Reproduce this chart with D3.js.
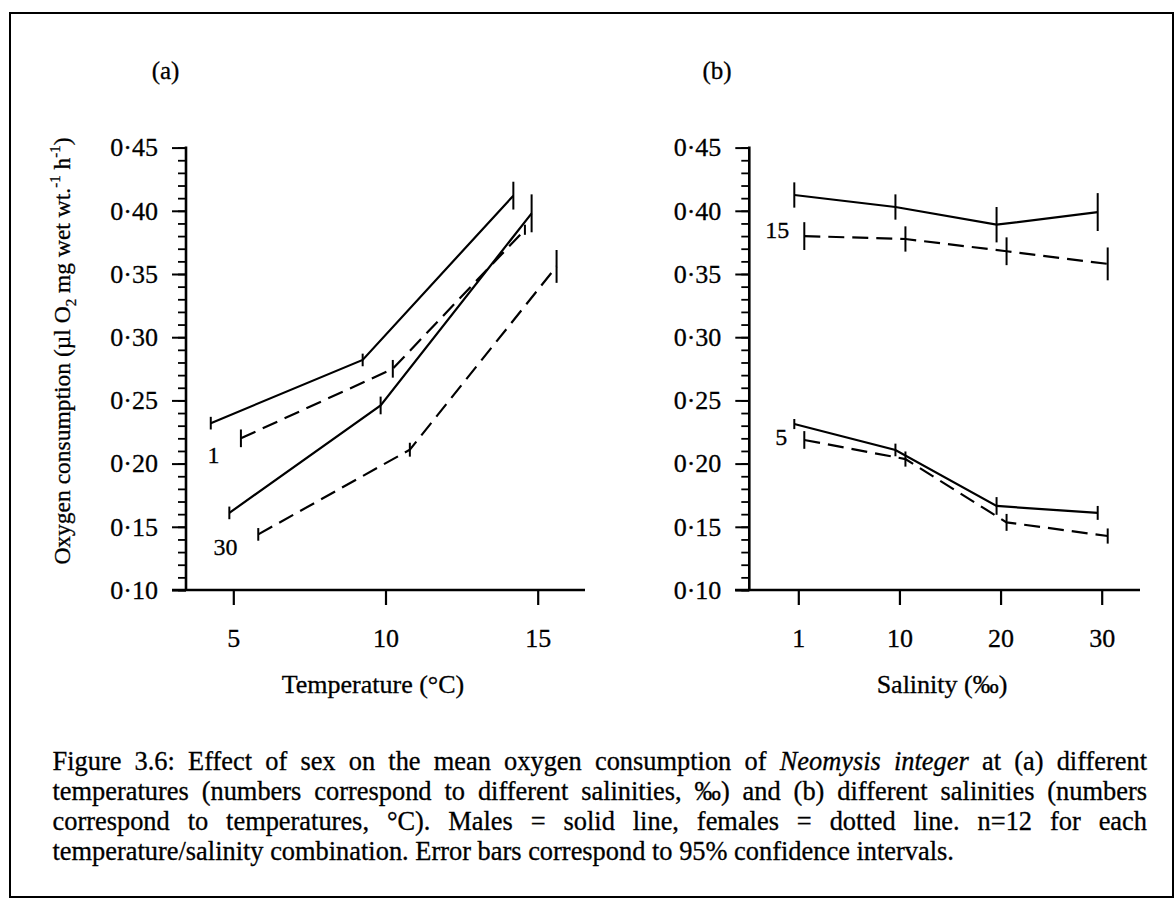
<!DOCTYPE html>
<html>
<head>
<meta charset="utf-8">
<script src="https://cdn.jsdelivr.net/npm/d3@7"></script>
<style>
  html, body { margin: 0; padding: 0; background: #fff; }
  svg { display: block; }
  text { font-family: "Liberation Serif", "Times New Roman", serif; fill: #000; stroke: #000; stroke-width: 0.3px; }
</style>
</head>
<body>
<svg id="fig" width="1175" height="899"></svg>
<script>
// ---------------- data ----------------
const yTicks = [0.10, 0.15, 0.20, 0.25, 0.30, 0.35, 0.40, 0.45];
const tempTicks = [5, 10, 15];
const salinityCats = ["1", "10", "20", "30"];

// (a) oxygen consumption vs temperature; sexes are staggered along the temperature axis
const aMaleSal1Temp = [4.26, 9.25, 14.2];
const aMaleSal1O2 = [0.232, 0.282, 0.412];
const aMaleSal1CI = [0.005, 0.005, 0.011];

const aFemaleSal1Temp = [5.25, 10.24, 14.58];
const aFemaleSal1O2 = [0.220, 0.275, 0.385];
const aFemaleSal1CI = [0.007, 0.007, 0.004];

const aMaleSal30Temp = [4.87, 9.84, 14.8];
const aMaleSal30O2 = [0.161, 0.246, 0.398];
const aMaleSal30CI = [0.005, 0.007, 0.015];

const aFemaleSal30Temp = [5.82, 10.8, 15.62];
const aFemaleSal30O2 = [0.144, 0.211, 0.356];
const aFemaleSal30CI = [0.005, 0.0055, 0.013];

// (b) oxygen consumption vs salinity, at 15 and 5 °C
const bMaleT15O2 = [0.4125, 0.403, 0.389, 0.399];
const bMaleT15CI = [0.010, 0.010, 0.014, 0.015];
const bFemaleT15O2 = [0.380, 0.3777, 0.368, 0.358];
const bFemaleT15CI = [0.011, 0.010, 0.011, 0.013];

const bMaleT5O2 = [0.2313, 0.2108, 0.1665, 0.161];
const bMaleT5CI = [0.004, 0.005, 0.007, 0.0055];
const bFemaleT5O2 = [0.2187, 0.2036, 0.1535, 0.1427];
const bFemaleT5CI = [0.007, 0.006, 0.0067, 0.006];

const captionLines = [
  [["Figure 3.6: Effect of sex on the mean oxygen consumption of ", false], ["Neomysis integer", true], [" at (a) different", false]],
  [["temperatures (numbers correspond to different salinities, \u2030) and (b) different salinities (numbers", false]],
  [["correspond to temperatures, \u00B0C). Males = solid line, females = dotted line. n=12 for each", false]],
  [["temperature/salinity combination. Error bars correspond to 95% confidence intervals.", false]]
];

// ---------------- layout ----------------
const svg = d3.select("#fig");
const FONT = 26;
const fmt = v => d3.format(".2f")(v).replace(".", "\u00B7");

const yScale = d3.scaleLinear().domain([0.10, 0.45]).range([590, 147.6]);
const xTemp = d3.scaleLinear().domain([5, 15]).range([233.3, 537.7]);
const xSal = d3.scalePoint().domain(salinityCats).range([798.3, 1101.7]);
const minorTicks = d3.range(10, 46).map(d => d / 100);

// outer frame
svg.append("rect")
  .attr("x", 10).attr("y", 13).attr("width", 1163).attr("height", 884)
  .attr("fill", "none").attr("stroke", "#000").attr("stroke-width", 2);

function drawYAxis(axisX) {
  const g = svg.append("g").attr("transform", `translate(${axisX},0)`);
  g.append("g")
    .call(d3.axisLeft(yScale).tickValues(minorTicks).tickSize(8).tickFormat(""))
    .call(s => s.select(".domain").remove())
    .selectAll("line").attr("stroke", "#000").attr("stroke-width", 1.8);
  const major = g.append("g")
    .call(d3.axisLeft(yScale).tickValues(yTicks).tickSize(14).tickPadding(14).tickFormat(fmt))
    .call(s => s.select(".domain").remove());
  major.selectAll("line").attr("stroke", "#000").attr("stroke-width", 2);
  major.selectAll("text").attr("font-size", FONT).attr("font-family", "Liberation Serif, serif");
  g.append("line")
    .attr("x1", 0).attr("x2", 0)
    .attr("y1", yScale(0.45) - 1).attr("y2", yScale(0.10) + 1)
    .attr("stroke", "#000").attr("stroke-width", 2.6);
}

function drawXAxis(scale, values, x0, x1) {
  const g = svg.append("g").attr("transform", "translate(0,590)");
  const ax = g.append("g")
    .call(d3.axisBottom(scale).tickValues(values).tickSize(15).tickPadding(24))
    .call(s => s.select(".domain").remove());
  ax.selectAll("line").attr("stroke", "#000").attr("stroke-width", 2.2);
  ax.selectAll("text").attr("font-size", FONT).attr("font-family", "Liberation Serif, serif");
  g.append("line").attr("x1", x0).attr("x2", x1).attr("y1", 0).attr("y2", 0)
    .attr("stroke", "#000").attr("stroke-width", 2.4);
}

drawYAxis(186);
drawYAxis(749.3);
drawXAxis(xTemp, tempTicks, 172, 585);
drawXAxis(xSal, salinityCats, 735, 1140);

// series: solid = males, dashed = females
function drawSeries(xs, ys, cis, dashed) {
  const pts = xs.map((x, i) => ({ x, y: ys[i], ci: cis[i] }));
  const g = svg.append("g");
  g.append("path")
    .attr("d", d3.line().x(d => d.x).y(d => yScale(d.y))(pts))
    .attr("fill", "none").attr("stroke", "#000").attr("stroke-width", 2.2)
    .attr("stroke-dasharray", dashed ? "16,8" : null);
  g.selectAll("line").data(pts).join("line")
    .attr("x1", d => d.x).attr("x2", d => d.x)
    .attr("y1", d => yScale(d.y - d.ci)).attr("y2", d => yScale(d.y + d.ci))
    .attr("stroke", "#000").attr("stroke-width", 2);
}

drawSeries(aMaleSal1Temp.map(xTemp), aMaleSal1O2, aMaleSal1CI, false);
drawSeries(aFemaleSal1Temp.map(xTemp), aFemaleSal1O2, aFemaleSal1CI, true);
drawSeries(aMaleSal30Temp.map(xTemp), aMaleSal30O2, aMaleSal30CI, false);
drawSeries(aFemaleSal30Temp.map(xTemp), aFemaleSal30O2, aFemaleSal30CI, true);

const maleShift = -4, femaleShift = 6;
const salX = shift => salinityCats.map(c => xSal(c) + shift);
drawSeries(salX(maleShift), bMaleT15O2, bMaleT15CI, false);
drawSeries(salX(femaleShift), bFemaleT15O2, bFemaleT15CI, true);
drawSeries(salX(maleShift), bMaleT5O2, bMaleT5CI, false);
drawSeries(salX(femaleShift), bFemaleT5O2, bFemaleT5CI, true);

// group labels (salinity in a, temperature in b)
const note = (x, y, t) => svg.append("text").attr("x", x).attr("y", y)
  .attr("text-anchor", "middle").attr("font-size", 24).text(t);
note(xTemp(4.35), yScale(0.2005), "1");
note(xTemp(4.74), yScale(0.1277), "30");
note(xSal("1") - 21, yScale(0.3785), "15");
note(xSal("1") - 17, yScale(0.2147), "5");

// panel tags
svg.append("text").attr("x", 165.5).attr("y", 79).attr("text-anchor", "middle").attr("font-size", 25).text("(a)");
svg.append("text").attr("x", 717).attr("y", 79).attr("text-anchor", "middle").attr("font-size", 25).text("(b)");

// axis titles
svg.append("text").attr("x", 373).attr("y", 693).attr("text-anchor", "middle").attr("font-size", FONT).text("Temperature (\u00B0C)");
svg.append("text").attr("x", 942).attr("y", 693).attr("text-anchor", "middle").attr("font-size", FONT).text("Salinity (\u2030)");

const yTitle = svg.append("text")
  .attr("transform", "translate(70,351) rotate(-90)")
  .attr("text-anchor", "middle").attr("font-size", 23.5);
yTitle.append("tspan").text("Oxygen consumption (\u00B5l O");
yTitle.append("tspan").attr("dy", 6).attr("font-size", 15).text("2");
yTitle.append("tspan").attr("dy", -6).text(" mg wet wt.");
yTitle.append("tspan").attr("dy", -10).attr("font-size", 15).text("-1");
yTitle.append("tspan").attr("dy", 10).text(" h");
yTitle.append("tspan").attr("dy", -10).attr("font-size", 15).text("-1");
yTitle.append("tspan").attr("dy", 10).text(")");

// caption, justified between the margins except for the last line
const capLeft = 52.5, capRight = 1147, capSize = 26.4, capTop = 770, capLead = 30;
captionLines.forEach((segs, li) => {
  const y = capTop + li * capLead;
  const words = [];
  segs.forEach(([t, it]) => t.split(" ").filter(w => w.length).forEach(w => words.push({ w, it })));
  const last = li === captionLines.length - 1;
  const g = svg.append("g");
  const nodes = words.map(d => g.append("text")
    .attr("y", y).attr("font-size", capSize)
    .attr("font-style", d.it ? "italic" : "normal").text(d.w));
  const widths = nodes.map(n => n.node().getComputedTextLength());
  const total = d3.sum(widths);
  const gap = last ? capSize * 0.25 : (capRight - capLeft - total) / (words.length - 1);
  let x = capLeft;
  nodes.forEach((n, i) => { n.attr("x", x); x += widths[i] + gap; });
});
</script>
</body>
</html>
